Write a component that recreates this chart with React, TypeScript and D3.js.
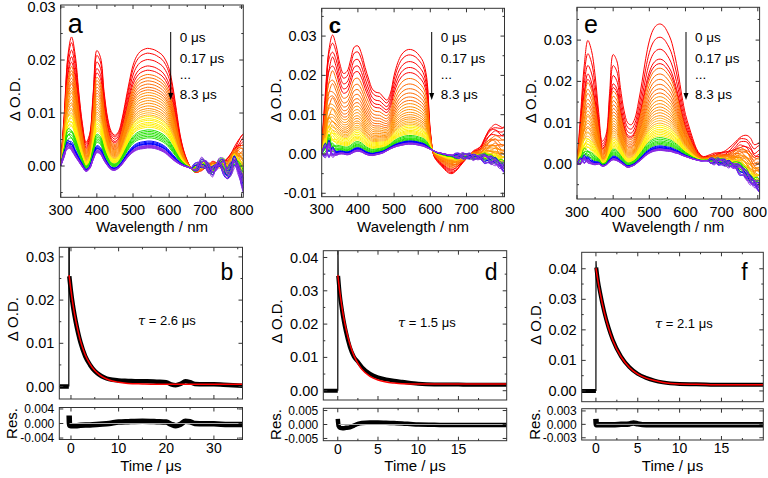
import React from 'react';
import * as d3 from 'd3';

// ---------------- DATA ----------------
const wavelengths = [300,310,320,330,340,350,360,370,380,390,400,410,420,430,440,450,460,470,480,490,500,510,520,530,540,550,560,570,580,590,600,610,620,630,640,650,660,670,680,690,700,710,720,730,740,750,760,770,780,790,800,810];

// spectrum at 0 us (top red) and at 8.3 us (last violet) for each sample
const earlyA = [0.0005,0.0100,0.0210,0.0243,0.0210,0.0140,0.0080,0.0045,0.0060,0.0140,
  0.0218,0.0205,0.0140,0.0090,0.0065,0.0058,0.0065,0.0090,0.0125,0.0160,
  0.0190,0.0207,0.0216,0.0220,0.0222,0.0221,0.0219,0.0215,0.0210,0.0200,
  0.0183,0.0150,0.0105,0.0060,0.0030,0.0010,-0.0003,-0.0010,-0.0012,-0.0008,
  0.0000,0.0005,0.0008,0.0005,0.0000,0.0005,0.0015,0.0025,0.0035,0.0045,
  0.0057,0.0068];
const lateA = [0.0000,0.0020,0.0035,0.0030,0.0018,0.0008,-0.0002,-0.0010,-0.0005,0.0012,
  0.0025,0.0022,0.0010,0.0000,-0.0007,-0.0008,-0.0004,0.0003,0.0012,0.0020,
  0.0026,0.0030,0.0032,0.0033,0.0034,0.0034,0.0033,0.0031,0.0028,0.0024,
  0.0018,0.0012,0.0007,0.0003,0.0000,-0.0002,-0.0004,-0.0003,0.0000,0.0006,
  0.0004,-0.0006,-0.0010,-0.0002,0.0006,0.0000,-0.0015,-0.0008,0.0008,-0.0005,
  -0.0028,-0.0045];
const earlyC = [0.0020,0.0150,0.0270,0.0300,0.0275,0.0230,0.0205,0.0210,0.0240,0.0272,
  0.0275,0.0255,0.0220,0.0190,0.0165,0.0157,0.0155,0.0145,0.0137,0.0155,
  0.0200,0.0232,0.0252,0.0262,0.0266,0.0265,0.0260,0.0250,0.0235,0.0195,
  0.0060,-0.0005,-0.0020,-0.0030,-0.0040,-0.0048,-0.0050,-0.0045,-0.0035,-0.0022,
  -0.0010,0.0000,0.0008,0.0012,0.0020,0.0040,0.0060,0.0072,0.0075,0.0070,
  0.0068,0.0078];
const lateC = [0.0000,0.0005,0.0010,0.0000,-0.0003,0.0000,0.0000,-0.0002,0.0000,0.0005,
  0.0007,0.0005,0.0000,-0.0003,-0.0004,-0.0002,0.0000,0.0003,0.0008,0.0013,
  0.0017,0.0020,0.0022,0.0024,0.0025,0.0025,0.0024,0.0022,0.0020,0.0016,
  0.0012,0.0008,0.0004,0.0002,0.0000,-0.0002,-0.0003,-0.0004,-0.0004,-0.0005,
  -0.0005,-0.0006,-0.0008,-0.0009,-0.0010,-0.0012,-0.0015,-0.0018,-0.0020,-0.0028,
  -0.0035,-0.0040];
const earlyE = [0.0000,0.0120,0.0240,0.0298,0.0275,0.0215,0.0125,0.0055,0.0070,0.0170,
  0.0265,0.0250,0.0185,0.0130,0.0100,0.0095,0.0110,0.0150,0.0200,0.0255,
  0.0298,0.0324,0.0336,0.0339,0.0334,0.0320,0.0300,0.0265,0.0220,0.0165,
  0.0120,0.0090,0.0062,0.0038,0.0024,0.0018,0.0020,0.0022,0.0025,0.0027,
  0.0030,0.0034,0.0038,0.0045,0.0055,0.0066,0.0071,0.0072,0.0062,0.0045,
  0.0050,0.0060];
const lateE = [0.0000,0.0005,0.0008,0.0005,0.0000,-0.0002,0.0000,-0.0005,-0.0003,0.0005,
  0.0010,0.0008,0.0003,-0.0003,-0.0008,-0.0006,-0.0002,0.0005,0.0012,0.0020,
  0.0026,0.0030,0.0032,0.0033,0.0032,0.0031,0.0030,0.0027,0.0025,0.0021,
  0.0018,0.0015,0.0012,0.0010,0.0008,0.0008,0.0008,0.0007,0.0006,0.0005,
  0.0005,0.0002,0.0000,-0.0004,-0.0008,-0.0014,-0.0020,-0.0030,-0.0040,-0.0048,
  -0.0055,-0.0060];

// band-peak value of every time slice (0, 0.17, ... 8.3 us)
const peaksA = [0.0221,0.0212,0.0200,0.0188,0.0180, 0.0172,0.0166,0.0160,0.0154,0.0148,0.0143,0.0138,0.0133,0.0128,0.0123,0.0118,0.0113,0.0108,
  0.0104,0.0100,0.0096, 0.0093,0.0089,0.0086,0.0082,0.0079,0.0076,0.0073, 0.0068,0.0065,0.0062,0.0059,0.0056,0.0053,
  0.0047,0.0045,0.0043,0.0042,0.0041, 0.0039,0.0038,0.0037,0.0036,0.0035,0.0034];
const peaksC = [0.0266,0.0252,0.0235,0.0220,0.0207, 0.0192,0.0178,0.0166,0.0155,0.0145,0.0136,0.0128,0.0120,0.0113,0.0106,0.0100,0.0094,0.0089,
  0.0084,0.0080,0.0076, 0.0072,0.0068,0.0064,0.0060,0.0057,0.0054,0.0051, 0.0047,0.0044,0.0041,0.0039,0.0037,0.0035,
  0.0033,0.0032,0.0031,0.0030,0.0029, 0.0028,0.0027,0.0027,0.0026,0.0025,0.0025];
const peaksE = [0.0339,0.0307,0.0278,0.0254,0.0243, 0.0232,0.0218,0.0205,0.0193,0.0182,0.0172,0.0163,0.0154,0.0146,0.0138,0.0131,0.0124,0.0117,
  0.0111,0.0105,0.0099, 0.0094,0.0089,0.0084,0.0080,0.0076,0.0072,0.0068, 0.0064,0.0060,0.0056,0.0053,0.0050,0.0047,
  0.0044,0.0042,0.0040,0.0039,0.0038, 0.0037,0.0036,0.0035,0.0034,0.0034,0.0033];
const refWlA = 550, refWlC = 540, refWlE = 530;

// noise-like wiggles (edge regions) and their weight per slice
const wiggle1 = [0,0.8,-1.0,0.5,0, 0,0,0,0,0, 0,0,0,0,0, 0,0,0,0,0, 0,0,0,0,0, 0,0,0,0,0, 0,0,0,0,0, 0,
  0,0.2,0.5,0.1,-0.3,-0.6,-0.1,0.4,0.3,-0.2,-0.5,-0.9,-0.2,0.6,0.3,-0.8];
const wiggle2 = [0,-0.5,0.6,-0.3,0, 0,0,0,0,0, 0,0,0,0,0, 0,0,0,0,0, 0,0,0,0,0, 0,0,0,0,0, 0,0,0,0,0, 0,
  0,-0.3,0.1,0.6,0.2,-0.2,-0.6,0.1,0.5,0.8,0.1,-0.4,-0.7,0.2,0.9,0.4];
const wiggleCoef1 = [0.4,0.1,-0.3,0.5,-0.2, 0.6,-0.1,0.3,-0.7,0.2,0.5,-0.4,0.0,0.8,-0.6,0.3,-0.2,0.7, -0.9,0.4,0.1,
  -0.5,1.0,0.2,-0.8,0.6,-0.3,1.1, -1.2,0.5,0.9,-0.4,-1.0,1.3, 0.2,-1.4,0.8,1.5,-0.6, -1.1,1.6,0.3,-1.7,0.9,-0.2];
const wiggleCoef2 = [-0.2,0.4,0.3,-0.5,0.6, -0.3,0.7,-0.6,0.2,0.9,-0.8,0.1,0.6,-0.4,-0.9,0.5,1.0,-0.2, 0.3,-1.0,0.8,
  1.1,-0.2,-0.9,0.6,-1.2,0.4,0.1, 0.8,1.3,-1.1,-0.5,1.4,0.2, -1.3,0.7,-0.4,-1.5,1.2, 0.5,-0.9,1.6,0.4,-1.4,1.1];
const wiggleAmpA = [0.0002, 0.0011];
const wiggleAmpC = [0.0010, 0.0009];
const wiggleAmpE = [0.0004, 0.0010];

const sliceColors: [string, number][] = [
  ['#ff0000', 5], ['#ff6a00', 6], ['#ff8c00', 7], ['#ffb020', 3], ['#ffee00', 7],
  ['#22e000', 6], ['#0000ff', 5], ['#8a2be2', 6],
];
const legendLabels = ['0 \u03bcs', '0.17 \u03bcs', '...', '8.3 \u03bcs'];

// kinetics
const baseB = { t: [-2.4, -0.45], v: [0, 0] };
const spikeB = { t: [-0.45, -0.43, -0.38, -0.35], v: [0, 0.045, 0.045, 0.0255] };
const dataTB = [-0.35,0,0.5,1,1.5,2,3,4,5,6,7,8,10,12,14,16,18,20,21,22,23,24,25,26,28,30,32,34,36];
const dataVB = [0.0255,0.0220,0.0181,0.0150,0.0124,0.0102,0.0070,0.0050,0.0036,0.0027,0.0021,0.0017,0.0014,0.0013,0.0012,0.0012,0.0011,0.0010,0.0005,0.0003,0.0006,0.0012,0.0010,0.0006,0.0005,0.0005,0.0004,0.0003,0.0002];
const fitTB = [-0.4,0,0.5,1,1.5,2,2.5,3,4,5,6,7,8,10,12,15,20,36];
const fitVB = [0.0258,0.0222,0.0184,0.0153,0.0127,0.0105,0.0088,0.0073,0.0052,0.0037,0.0027,0.0020,0.0015,0.0010,0.0007,0.0006,0.0005,0.0005];
const resTB = [-0.38,-0.3,0,1,2,4,6,8,10,12,15,18,20,21,22,23,24,25,26,28,30,33,36];
const resVB = [0.0022,-0.0005,-0.0006,-0.0006,-0.0005,-0.0004,-0.0002,0.0000,0.0004,0.0005,0.0006,0.0005,0.0004,-0.0002,-0.0006,-0.0002,0.0006,0.0005,0.0000,-0.0001,-0.0001,-0.0003,-0.0003];

const baseD = { t: [-1.8, 0], v: [0, 0] };
const spikeD = { t: [0, 0.02, 0.05], v: [0, 0.045, 0.0345] };
const dataTD = [0.05,0.25,0.5,0.75,1,1.5,2,2.5,3,4,5,6,7,8,10,12,14,16,18,21];
const dataVD = [0.0345,0.0290,0.0245,0.0208,0.0178,0.0131,0.0102,0.0087,0.0071,0.0051,0.0040,0.0034,0.0030,0.0027,0.0021,0.0019,0.0019,0.0018,0.0018,0.0018];
const fitTD = [0,0.25,0.5,0.75,1,1.5,2,2.5,3,4,5,6,7,8,10,12,21];
const fitVD = [0.0347,0.0297,0.0254,0.0218,0.0188,0.0140,0.0106,0.0082,0.0064,0.0043,0.0032,0.0026,0.0023,0.0021,0.0020,0.0020,0.0020];
const resTD = [0,0.1,0.3,0.6,1,1.5,2,2.5,3,4,5,6,7,8,9,10,12,14,16,18,21];
const resVD = [0.0020,-0.0005,-0.0012,-0.0013,-0.0012,-0.0010,-0.0004,0.0002,0.0005,0.0007,0.0007,0.0006,0.0005,0.0004,0.0002,0.0000,-0.0001,-0.0002,-0.0002,-0.0002,-0.0002];

const baseF = { t: [-1.7, 0], v: [0, 0] };
const spikeF = { t: [0, 0.01, 0.04], v: [0, 0.0425, 0.0405] };
const dataTF = [0.04,0.25,0.5,1,1.5,2,3,4,5,6,7,8,10,12,15,20];
const dataVF = [0.0404,0.0360,0.0322,0.0258,0.0208,0.0168,0.0113,0.0078,0.0056,0.0043,0.0034,0.0028,0.0023,0.0022,0.0020,0.0020];
const fitTF = [0,0.25,0.5,1,1.5,2,3,4,5,6,7,8,10,12,15,20];
const fitVF = [0.0402,0.0359,0.0321,0.0257,0.0207,0.0167,0.0112,0.0077,0.0055,0.0042,0.0034,0.0028,0.0023,0.0022,0.0020,0.0020];
const resTF = [0,0.05,1,2,3,4,4.5,5,6,8,10,12,15,20];
const resVF = [0.0012,-0.0001,-0.0001,-0.0001,0.0000,0.0001,0.0003,0.0001,-0.0001,-0.0001,-0.0001,-0.0001,-0.0001,-0.0001];

// tick values
const wlMajor = [300,400,500,600,700,800];
const wlMinor = [350,450,550,650,750];
const odMajorA = [0,0.01,0.02,0.03];
const odMajorC = [-0.01,0,0.01,0.02,0.03];
const odMajorE = [0,0.01,0.02,0.03];
const odMinor = [-0.005,0.005,0.015,0.025,0.035];
const odMajorB = [0,0.01,0.02,0.03];
const odMajorDF = [0,0.01,0.02,0.03,0.04];
const tMajorB = [0,10,20,30];
const tMinorB = [-5,5,15,25,35];
const tMajorDF = [0,5,10,15];
const tMinorDF = [-2.5,2.5,7.5,12.5,17.5];
const resTicksB = [-0.004,0,0.004];
const resTicksD = [-0.005,0,0.005];
const resTicksF = [-0.003,0,0.003];

// ---------------- LAYOUT ----------------
type Fr = { x0: number; x1: number; y0: number; y1: number };
const FA: Fr = { x0: 60.7, x1: 243.3, y0: 5, y1: 197.3 };
const FC: Fr = { x0: 321.7, x1: 504.5, y0: 8.3, y1: 196.7 };
const FE: Fr = { x0: 577, x1: 759.6, y0: 7.3, y1: 199 };
const FB: Fr = { x0: 59.3, x1: 242.5, y0: 247.3, y1: 399 };
const RB: Fr = { x0: 59.3, x1: 242.5, y0: 407.5, y1: 439.5 };
const FD: Fr = { x0: 323.3, x1: 506.7, y0: 250.7, y1: 400 };
const RD: Fr = { x0: 323.3, x1: 506.7, y0: 408.3, y1: 440.7 };
const FF: Fr = { x0: 581.7, x1: 763.3, y0: 252.3, y1: 401.7 };
const RF: Fr = { x0: 581.7, x1: 763.3, y0: 408.7, y1: 440 };

const FONT = 'Liberation Sans, Arial, Helvetica, sans-serif';
const FRAME = '#333';
const PAGE_W = 768;

function buildCurves(early: number[], late: number[], peaks: number[], refWl: number, amp: number[]) {
  const r = wavelengths.indexOf(refWl);
  return peaks.map((p, i) => {
    const w = (p - late[r]) / (early[r] - late[r]);
    return wavelengths.map((wl, j) => {
      const a = wl < 500 ? amp[0] : amp[1];
      return late[j] + w * (early[j] - late[j]) + a * (wiggleCoef1[i] * wiggle1[j] + wiggleCoef2[i] * wiggle2[j]);
    });
  });
}

const curveColors: string[] = sliceColors.flatMap(([c, n]) => Array(n).fill(c));

function Frame({ f }: { f: Fr }) {
  return <rect x={f.x0} y={f.y0} width={f.x1 - f.x0} height={f.y1 - f.y0} fill="none" stroke={FRAME} strokeWidth={1} />;
}

function XTicks({ f, sx, major, minor, labels, fmt, dy, size = 14.5 }: any) {
  return (
    <g stroke={FRAME} strokeWidth={1}>
      {major.map((v: number) => (
        <g key={'M' + v}>
          <line x1={sx(v)} x2={sx(v)} y1={f.y1} y2={f.y1 - 4} />
          <line x1={sx(v)} x2={sx(v)} y1={f.y0} y2={f.y0 + 4} />
        </g>
      ))}
      {minor.filter((v: number) => sx(v) > f.x0 + 1 && sx(v) < f.x1 - 1).map((v: number) => (
        <g key={'m' + v}>
          <line x1={sx(v)} x2={sx(v)} y1={f.y1} y2={f.y1 - 2} />
          <line x1={sx(v)} x2={sx(v)} y1={f.y0} y2={f.y0 + 2} />
        </g>
      ))}
      {labels && major.map((v: number) => {
        const s = fmt(v);
        const half = s.length * size * 0.28;
        const overflow = sx(v) + half > PAGE_W - 1;
        return (
          <text key={'t' + v} x={overflow ? PAGE_W - 1 : sx(v)} y={f.y1 + dy} textAnchor={overflow ? 'end' : 'middle'}
            stroke="none" fill="#000" fontSize={size}>{s}</text>
        );
      })}
    </g>
  );
}

function YTicks({ f, sy, major, minor, fmt, size = 14.5 }: any) {
  return (
    <g stroke={FRAME} strokeWidth={1}>
      {major.map((v: number) => (
        <g key={'M' + v}>
          <line x1={f.x0} x2={f.x0 + 4} y1={sy(v)} y2={sy(v)} />
          <line x1={f.x1} x2={f.x1 - 4} y1={sy(v)} y2={sy(v)} />
          <text x={f.x0 - 5} y={sy(v) + size * 0.35} textAnchor="end" stroke="none" fill="#000" fontSize={size}>{fmt(v)}</text>
        </g>
      ))}
      {minor.filter((v: number) => sy(v) > f.y0 + 1 && sy(v) < f.y1 - 1).map((v: number) => (
        <g key={'m' + v}>
          <line x1={f.x0} x2={f.x0 + 2} y1={sy(v)} y2={sy(v)} />
          <line x1={f.x1} x2={f.x1 - 2} y1={sy(v)} y2={sy(v)} />
        </g>
      ))}
    </g>
  );
}

function VLabel({ x, y, text, size = 15 }: any) {
  return <text transform={`translate(${x},${y}) rotate(-90)`} textAnchor="middle" fontSize={size}>{text}</text>;
}

function SpectraPanel({ id, f, yDom, yMajor, curves, letter, letterSize, letterBold, legendX }: any) {
  const sx = d3.scaleLinear().domain([300, 805]).range([f.x0, f.x1]);
  const sy = d3.scaleLinear().domain(yDom).range([f.y1, f.y0]);
  const line = d3.line<number>().x((_, j) => sx(wavelengths[j])).y((v) => sy(v)).curve(d3.curveCatmullRom.alpha(0.5));
  const cx = (f.x0 + f.x1) / 2;
  return (
    <g>
      <defs>
        <clipPath id={id}><rect x={f.x0} y={f.y0} width={f.x1 - f.x0} height={f.y1 - f.y0} /></clipPath>
      </defs>
      <g clipPath={`url(#${id})`}>
        {curves.map((c: number[], i: number) => (
          <path key={i} d={line(c) || ''} fill="none" stroke={curveColors[i]} strokeWidth={1} />
        ))}
      </g>
      <Frame f={f} />
      <XTicks f={f} sx={sx} major={wlMajor} minor={wlMinor} labels fmt={(v: number) => String(v)} dy={17.5} />
      <YTicks f={f} sy={sy} major={yMajor} minor={odMinor} fmt={(v: number) => v.toFixed(2)} />
      <text x={cx} y={232} textAnchor="middle" fontSize={15}>Wavelength / nm</text>
      <VLabel x={f.x0 - 41} y={(f.y0 + f.y1) / 2 - 2} text={'\u0394 O.D.'} />
      <text x={f.x0 + 7} y={32.5} fontSize={letterSize} fontWeight={letterBold ? 'bold' : 'normal'}>{letter}</text>
      <line x1={legendX} x2={legendX} y1={32} y2={94} stroke="#000" strokeWidth={1} />
      <path d={`M${legendX - 2.5},93 L${legendX + 2.5},93 L${legendX},100 Z`} fill="#000" />
      {legendLabels.map((t, k) => (
        <text key={k} x={legendX + 9} y={[41.5, 63, 79, 98.5][k]} fontSize={13.5}>{t}</text>
      ))}
    </g>
  );
}

function DecayPanel({ id, f, r, tDom, yDom, rDom, yMajor, tMajor, tMinor, resTicks, base, spike, dT, dV, fT, fV, rT, rV, tau, tauX, tauY, letter, bandW, resW }: any) {
  const sx = d3.scaleLinear().domain(tDom).range([f.x0, f.x1]);
  const sy = d3.scaleLinear().domain(yDom).range([f.y1, f.y0]);
  const sr = d3.scaleLinear().domain(rDom).range([r.y1, r.y0]);
  const mk = (ts: number[], ys: number[], s: any, curve: any) =>
    d3.line<number>().x((_, i) => sx(ts[i])).y((v) => s(v)).curve(curve)(ys) || '';
  const cx = (f.x0 + f.x1) / 2;
  const dataPath = mk(dT, dV, sy, d3.curveMonotoneX);
  const basePath = mk(base.t, base.v, sy, d3.curveLinear);
  const resPath = mk(rT, rV, sr, d3.curveMonotoneX);
  return (
    <g>
      <defs>
        <clipPath id={id + 'm'}><rect x={f.x0} y={f.y0} width={f.x1 - f.x0} height={f.y1 - f.y0} /></clipPath>
        <clipPath id={id + 'r'}><rect x={r.x0} y={r.y0} width={r.x1 - r.x0} height={r.y1 - r.y0} /></clipPath>
      </defs>
      <g clipPath={`url(#${id}m)`}>
        <path d={basePath} fill="none" stroke="#000" strokeWidth={bandW} />
        <path d={dataPath} fill="none" stroke="#000" strokeWidth={bandW} strokeLinejoin="round" />
        <path d={mk(spike.t, spike.v, sy, d3.curveLinear)} fill="none" stroke="#000" strokeWidth={1.2} />
        <path d={mk(fT, fV, sy, d3.curveMonotoneX)} fill="none" stroke="#ff0000" strokeWidth={1.5} />
      </g>
      <g clipPath={`url(#${id}r)`}>
        <path d={resPath} fill="none" stroke="#000" strokeWidth={resW} strokeLinejoin="round" />
        <line x1={sx(rT[1])} x2={r.x1} y1={sr(0)} y2={sr(0)} stroke="#aaa" strokeWidth={1} />
      </g>
      <Frame f={f} />
      <Frame f={r} />
      <XTicks f={f} sx={sx} major={tMajor} minor={tMinor} labels={false} fmt={String} dy={0} />
      <XTicks f={r} sx={sx} major={tMajor} minor={tMinor} labels fmt={(v: number) => String(v)} dy={13} size={14} />
      <YTicks f={f} sy={sy} major={yMajor} minor={odMinor} fmt={(v: number) => v.toFixed(2)} />
      <YTicks f={r} sy={sr} major={resTicks} minor={[]} fmt={(v: number) => v.toFixed(3)} size={12} />
      <text x={cx} y={471} textAnchor="middle" fontSize={15}>Time / {'\u03bc'}s</text>
      <VLabel x={f.x0 - 41} y={(f.y0 + f.y1) / 2 - 4} text={'\u0394 O.D.'} />
      <VLabel x={f.x0 - 42} y={(r.y0 + r.y1) / 2} text={'Res.'} />
      <text x={tauX} y={tauY} fontSize={13}>
        <tspan fontStyle="italic" fontFamily="DejaVu Serif, serif">{'\u03c4'}</tspan>{' = ' + tau + ' \u03bcs'}
      </text>
      <text x={f.x1 - 22} y={280} fontSize={23}>{letter}</text>
    </g>
  );
}

export default function App() {
  const curvesA = buildCurves(earlyA, lateA, peaksA, refWlA, wiggleAmpA);
  const curvesC = buildCurves(earlyC, lateC, peaksC, refWlC, wiggleAmpC);
  const curvesE = buildCurves(earlyE, lateE, peaksE, refWlE, wiggleAmpE);
  return (
    <svg width={768} height={478} style={{ position: 'absolute', left: 0, top: 0, background: '#fff' }} fontFamily={FONT}>
      <rect x={0} y={0} width={768} height={478} fill="#fff" />
      <SpectraPanel id="ca" f={FA} yDom={[-0.0059, 0.03038]} yMajor={odMajorA} curves={curvesA} letter="a" letterSize={27} legendX={170.7} />
      <SpectraPanel id="cc" f={FC} yDom={[-0.01087, 0.03707]} yMajor={odMajorC} curves={curvesC} letter="c" letterSize={22} letterBold legendX={431.7} />
      <SpectraPanel id="ce" f={FE} yDom={[-0.00847, 0.03794]} yMajor={odMajorE} curves={curvesE} letter="e" letterSize={25} legendX={686} />
      <DecayPanel id="kb" f={FB} r={RB} tDom={[-2.45, 36]} yDom={[-0.00289, 0.03222]} rDom={[-0.0044, 0.0044]}
        yMajor={odMajorB} tMajor={tMajorB} tMinor={tMinorB} resTicks={resTicksB}
        base={baseB} spike={spikeB} dT={dataTB} dV={dataVB} fT={fitTB} fV={fitVB} rT={resTB} rV={resVB}
        tau="2.6" tauX={138} tauY={325} letter="b" bandW={4.5} resW={5.5} />
      <DecayPanel id="kd" f={FD} r={RD} tDom={[-1.8, 21.0]} yDom={[-0.00279, 0.04204]} rDom={[-0.0058, 0.0058]}
        yMajor={odMajorDF} tMajor={tMajorDF} tMinor={tMinorDF} resTicks={resTicksD}
        base={baseD} spike={spikeD} dT={dataTD} dV={dataVD} fT={fitTD} fV={fitVD} rT={resTD} rV={resVD}
        tau="1.5" tauX={398} tauY={327} letter="d" bandW={4} resW={4.5} />
      <DecayPanel id="kf" f={FF} r={RF} tDom={[-1.7, 20.0]} yDom={[-0.00352, 0.04539]} rDom={[-0.0035, 0.0035]}
        yMajor={odMajorDF} tMajor={tMajorDF} tMinor={tMinorDF} resTicks={resTicksF}
        base={baseF} spike={spikeF} dT={dataTF} dV={dataVF} fT={fitTF} fV={fitVF} rT={resTF} rV={resVF}
        tau="2.1" tauX={655} tauY={328} letter="f" bandW={4} resW={5.5} />
    </svg>
  );
}
